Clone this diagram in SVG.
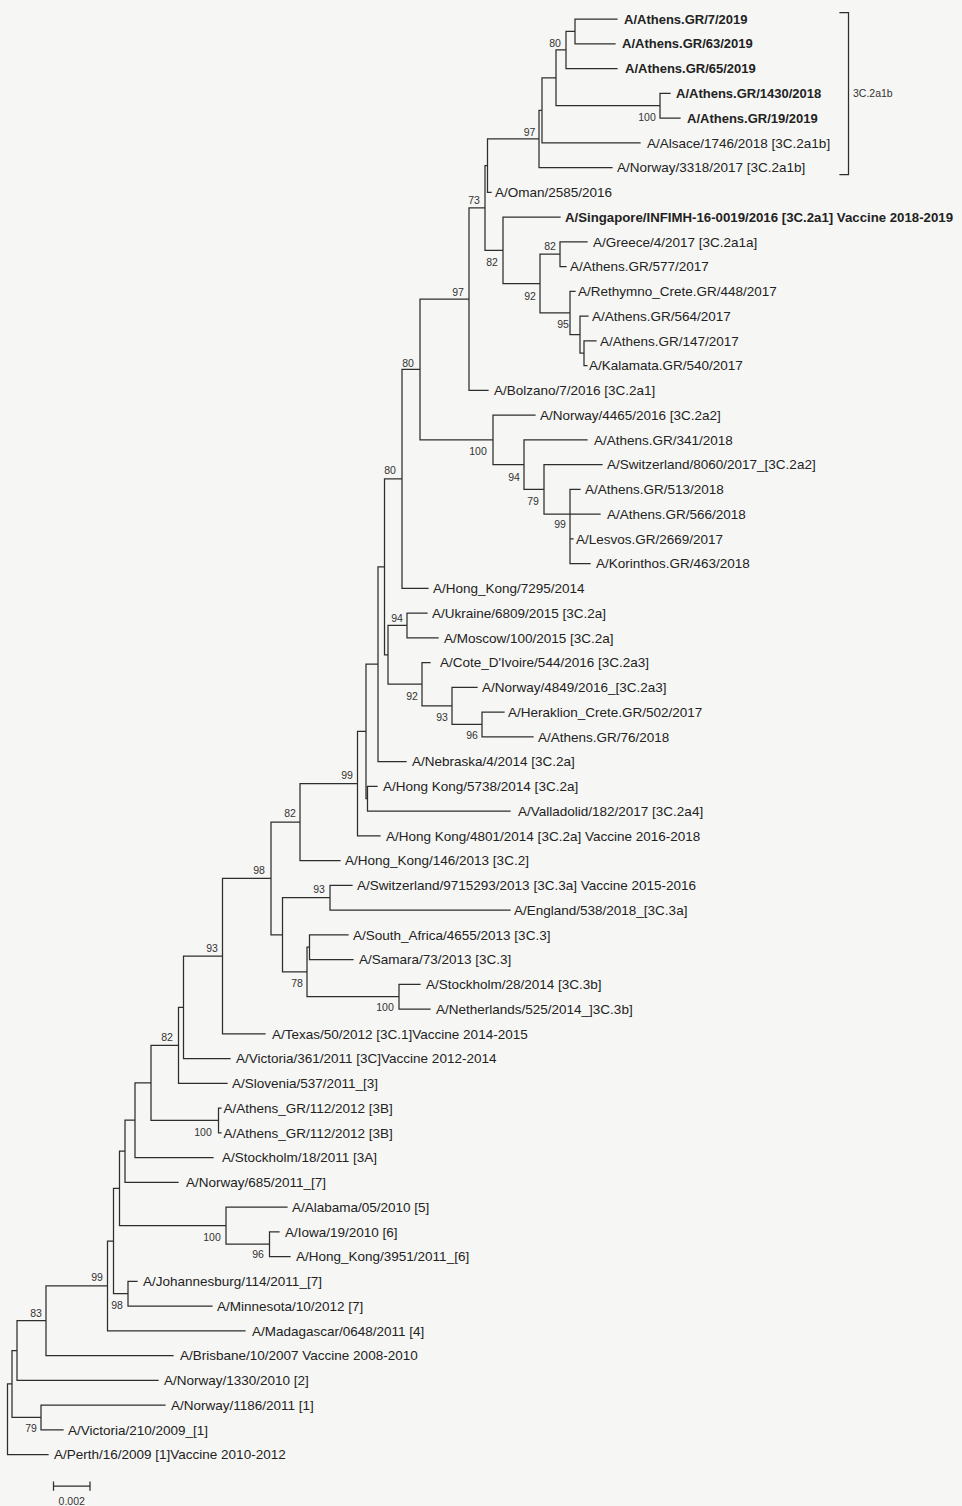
<svg xmlns="http://www.w3.org/2000/svg" width="962" height="1506" viewBox="0 0 962 1506">
<style>
.bg{fill:#f6f6f4}
.br{fill:none;stroke:#2e2e2e;stroke-width:1.25;stroke-linecap:square}
.t{font-family:"Liberation Sans",Arial,sans-serif;font-size:13.5px;fill:#222}
.b{font-weight:bold;font-size:13px}
.n{font-family:"Liberation Sans",Arial,sans-serif;font-size:10.5px;fill:#333;text-anchor:middle}
.c{font-family:"Liberation Sans",Arial,sans-serif;font-size:10.5px;fill:#333}
</style>
<rect class="bg" x="0" y="0" width="962" height="1506"/>
<g id="connectors">
<path class="br" d="
M575,19V43.75 M566,31.375V68.5 M660,93.25V118 M556,49.94V105.625 M542,77.78V142.75 M539,110.27V167.5 M487.5,138.88V192.25
M560,241.75V266.5 M584,340.75V365.5 M580,316V353.125 M570,291.25V334.56 M540,254.125V312.9 M503,217V283.5 M485,165.57V250.25 M469,207.9V390.25
M544,464.5V514 M570,489.25V563.5 M524,439.75V489.25 M493,415V464.5 M420,299.08V439.75 M402,369.4V588.25
M407,613V637.75 M482,712V736.75 M452,687.25V724.375 M422,662.5V705.8 M388,625.375V684.15 M384.5,478.8V654.76 M378,566.8V761.5
M367.5,786.25V811 M366,664.15V798.6 M357.5,731.4V835.75 M300,783.6V860.5 M330,885.25V910 M309.5,934.75V959.5 M399,984.25V1009
M307,947.1V996.6 M282.5,897.6V971.9 M271,822.05V934.75 M222.5,878.4V1033.75 M183.5,956.1V1058.5 M178.5,1007.3V1083.25
M218.5,1108V1132.75 M151,1045.3V1120.4 M135,1082.85V1157.5 M125,1120.2V1182.25 M269.5,1231.75V1256.5 M226,1207V1244.1
M119.5,1151.2V1225.6 M128,1281.25V1306 M113.5,1188.4V1293.6 M107.5,1241V1330.75 M46,1285.9V1355.5 M17,1320.7V1380.25
M41,1405V1429.75 M12,1350.5V1417.4 M7.5,1383.95V1454.5
M566,31.375H575 M556,49.94H566 M556,105.625H660 M542,77.78H556 M539,110.27H542 M487.5,138.88H539 M485,165.57H487.5
M540,254.125H560 M580,353.125H584 M570,334.56H580 M540,312.9H570 M503,283.5H540 M485,250.25H503 M469,207.9H485 M420,299.08H469
M524,489.25H544 M493,464.5H524 M420,439.75H493 M402,369.4H420 M384.5,478.8H402
M388,625.375H407 M452,724.375H482 M422,705.8H452 M388,684.15H422 M384.5,654.76H388 M378,566.8H384.5 M366,664.15H378
M366,798.6H367.5 M357.5,731.4H366 M300,783.6H357.5 M271,822.05H300 M282.5,897.6H330 M307,947.1H309.5 M307,996.6H399
M282.5,971.9H307 M271,934.75H282.5 M222.5,878.4H271 M183.5,956.1H222.5 M178.5,1007.3H183.5 M151,1045.3H178.5
M151,1120.4H218.5 M135,1082.85H151 M125,1120.2H135 M119.5,1151.2H125 M226,1244.1H269.5 M119.5,1225.6H226
M113.5,1188.4H119.5 M113.5,1293.6H128 M107.5,1241H113.5 M46,1285.9H107.5 M17,1320.7H46 M12,1350.5H17 M12,1417.4H41 M7.5,1383.95H12
M575,19H617 M575,43.75H615 M566,68.5H617 M660,93.25H670 M660,118H680 M542,142.75H640 M539,167.5H612 M487.5,192.25H491
M503,217H560 M560,241.75H587 M560,266.5H566 M570,291.25H575 M580,316H588 M584,340.75H596 M584,365.5H587 M469,390.25H488
M493,415H535 M524,439.75H587 M544,464.5H602 M570,489.25H580 M544,514H600 M570,538.75H573 M570,563.5H590 M402,588.25H428
M407,613H427 M407,637.75H438 M422,662.5H430 M452,687.25H477 M482,712H504 M482,736.75H533 M378,761.5H406
M367.5,786.25H377 M367.5,811H510 M357.5,835.75H380 M300,860.5H340 M330,885.25H352 M330,910H510 M309.5,934.75H348 M309.5,959.5H353
M399,984.25H420 M399,1009H430 M222.5,1033.75H265 M183.5,1058.5H230 M178.5,1083.25H227 M218.5,1108H221 M218.5,1132.75H221
M135,1157.5H213 M125,1182.25H178 M226,1207H287 M269.5,1231.75H279 M269.5,1256.5H290 M128,1281.25H137 M128,1306H212
M107.5,1330.75H245 M46,1355.5H173 M17,1380.25H158 M41,1405H165 M41,1429.75H63 M7.5,1454.5H48"/>
</g>
<g id="leaves">
<g id="leaf1"><text class="t b" x="624" y="23.6">A/Athens.GR/7/2019</text></g>
<g id="leaf2"><text class="t b" x="622" y="48.4">A/Athens.GR/63/2019</text></g>
<g id="leaf3"><text class="t b" x="625" y="73.1">A/Athens.GR/65/2019</text></g>
<g id="leaf4"><text class="t b" x="676" y="97.9">A/Athens.GR/1430/2018</text></g>
<g id="leaf5"><text class="t b" x="687" y="122.6">A/Athens.GR/19/2019</text></g>
<g id="leaf6"><text class="t" x="647" y="147.5">A/Alsace/1746/2018 [3C.2a1b]</text></g>
<g id="leaf7"><text class="t" x="617" y="172.2">A/Norway/3318/2017 [3C.2a1b]</text></g>
<g id="leaf8"><text class="t" x="495" y="197">A/Oman/2585/2016</text></g>
<g id="leaf9"><text class="t b" x="565" y="221.6" textLength="388" lengthAdjust="spacingAndGlyphs">A/Singapore/INFIMH-16-0019/2016 [3C.2a1] Vaccine 2018-2019</text></g>
<g id="leaf10"><text class="t" x="593" y="246.5">A/Greece/4/2017 [3C.2a1a]</text></g>
<g id="leaf11"><text class="t" x="570" y="271.2">A/Athens.GR/577/2017</text></g>
<g id="leaf12"><text class="t" x="578" y="296">A/Rethymno_Crete.GR/448/2017</text></g>
<g id="leaf13"><text class="t" x="592" y="320.7">A/Athens.GR/564/2017</text></g>
<g id="leaf14"><text class="t" x="600" y="345.5">A/Athens.GR/147/2017</text></g>
<g id="leaf15"><text class="t" x="589" y="370.2">A/Kalamata.GR/540/2017</text></g>
<g id="leaf16"><text class="t" x="494" y="395">A/Bolzano/7/2016 [3C.2a1]</text></g>
<g id="leaf17"><text class="t" x="540" y="419.7">A/Norway/4465/2016 [3C.2a2]</text></g>
<g id="leaf18"><text class="t" x="594" y="444.5">A/Athens.GR/341/2018</text></g>
<g id="leaf19"><text class="t" x="607" y="469.2">A/Switzerland/8060/2017_[3C.2a2]</text></g>
<g id="leaf20"><text class="t" x="585" y="494">A/Athens.GR/513/2018</text></g>
<g id="leaf21"><text class="t" x="607" y="518.7">A/Athens.GR/566/2018</text></g>
<g id="leaf22"><text class="t" x="576" y="543.5">A/Lesvos.GR/2669/2017</text></g>
<g id="leaf23"><text class="t" x="596" y="568.2">A/Korinthos.GR/463/2018</text></g>
<g id="leaf24"><text class="t" x="433" y="593">A/Hong_Kong/7295/2014</text></g>
<g id="leaf25"><text class="t" x="432" y="617.7">A/Ukraine/6809/2015 [3C.2a]</text></g>
<g id="leaf26"><text class="t" x="444" y="642.5">A/Moscow/100/2015 [3C.2a]</text></g>
<g id="leaf27"><text class="t" x="440" y="667.2">A/Cote_D'Ivoire/544/2016 [3C.2a3]</text></g>
<g id="leaf28"><text class="t" x="482" y="692">A/Norway/4849/2016_[3C.2a3]</text></g>
<g id="leaf29"><text class="t" x="508" y="716.7">A/Heraklion_Crete.GR/502/2017</text></g>
<g id="leaf30"><text class="t" x="538" y="741.5">A/Athens.GR/76/2018</text></g>
<g id="leaf31"><text class="t" x="412" y="766.2">A/Nebraska/4/2014 [3C.2a]</text></g>
<g id="leaf32"><text class="t" x="383" y="791">A/Hong Kong/5738/2014 [3C.2a]</text></g>
<g id="leaf33"><text class="t" x="518" y="815.7">A/Valladolid/182/2017 [3C.2a4]</text></g>
<g id="leaf34"><text class="t" x="386" y="840.5">A/Hong Kong/4801/2014 [3C.2a] Vaccine 2016-2018</text></g>
<g id="leaf35"><text class="t" x="345" y="865.2">A/Hong_Kong/146/2013 [3C.2]</text></g>
<g id="leaf36"><text class="t" x="357" y="890">A/Switzerland/9715293/2013 [3C.3a] Vaccine 2015-2016</text></g>
<g id="leaf37"><text class="t" x="514" y="914.7">A/England/538/2018_[3C.3a]</text></g>
<g id="leaf38"><text class="t" x="353" y="939.5">A/South_Africa/4655/2013 [3C.3]</text></g>
<g id="leaf39"><text class="t" x="359" y="964.2">A/Samara/73/2013 [3C.3]</text></g>
<g id="leaf40"><text class="t" x="426" y="989">A/Stockholm/28/2014 [3C.3b]</text></g>
<g id="leaf41"><text class="t" x="436" y="1013.7">A/Netherlands/525/2014_]3C.3b]</text></g>
<g id="leaf42"><text class="t" x="272" y="1038.5">A/Texas/50/2012 [3C.1]Vaccine 2014-2015</text></g>
<g id="leaf43"><text class="t" x="236" y="1063.2">A/Victoria/361/2011 [3C]Vaccine 2012-2014</text></g>
<g id="leaf44"><text class="t" x="232" y="1088">A/Slovenia/537/2011_[3]</text></g>
<g id="leaf45"><text class="t" x="223.5" y="1112.7">A/Athens_GR/112/2012 [3B]</text></g>
<g id="leaf46"><text class="t" x="223.5" y="1137.5">A/Athens_GR/112/2012 [3B]</text></g>
<g id="leaf47"><text class="t" x="222" y="1162.2">A/Stockholm/18/2011 [3A]</text></g>
<g id="leaf48"><text class="t" x="186" y="1187">A/Norway/685/2011_[7]</text></g>
<g id="leaf49"><text class="t" x="292" y="1211.7">A/Alabama/05/2010 [5]</text></g>
<g id="leaf50"><text class="t" x="285" y="1236.5">A/Iowa/19/2010 [6]</text></g>
<g id="leaf51"><text class="t" x="296" y="1261.2">A/Hong_Kong/3951/2011_[6]</text></g>
<g id="leaf52"><text class="t" x="143" y="1286">A/Johannesburg/114/2011_[7]</text></g>
<g id="leaf53"><text class="t" x="217" y="1310.7">A/Minnesota/10/2012 [7]</text></g>
<g id="leaf54"><text class="t" x="252" y="1335.5">A/Madagascar/0648/2011 [4]</text></g>
<g id="leaf55"><text class="t" x="180" y="1360.2">A/Brisbane/10/2007 Vaccine 2008-2010</text></g>
<g id="leaf56"><text class="t" x="164" y="1385">A/Norway/1330/2010 [2]</text></g>
<g id="leaf57"><text class="t" x="171" y="1409.7">A/Norway/1186/2011 [1]</text></g>
<g id="leaf58"><text class="t" x="68" y="1434.5">A/Victoria/210/2009_[1]</text></g>
<g id="leaf59"><text class="t" x="54" y="1459.2">A/Perth/16/2009 [1]Vaccine 2010-2012</text></g>
</g>
<g id="bootstrap">
<text class="n" x="555" y="46.8">80</text>
<text class="n" x="647" y="120.8">100</text>
<text class="n" x="529.5" y="135.5">97</text>
<text class="n" x="474" y="203.8">73</text>
<text class="n" x="492" y="265.8">82</text>
<text class="n" x="550" y="249.8">82</text>
<text class="n" x="530" y="299.8">92</text>
<text class="n" x="563" y="327.8">95</text>
<text class="n" x="458" y="295.5">97</text>
<text class="n" x="408" y="366.8">80</text>
<text class="n" x="478" y="454.8">100</text>
<text class="n" x="514" y="480.8">94</text>
<text class="n" x="533" y="504.8">79</text>
<text class="n" x="560" y="527.8">99</text>
<text class="n" x="390" y="473.8">80</text>
<text class="n" x="397" y="621.8">94</text>
<text class="n" x="412" y="699.8">92</text>
<text class="n" x="442" y="720.8">93</text>
<text class="n" x="472" y="738.8">96</text>
<text class="n" x="347" y="778.8">99</text>
<text class="n" x="290" y="816.8">82</text>
<text class="n" x="259" y="873.8">98</text>
<text class="n" x="319" y="892.8">93</text>
<text class="n" x="212" y="951.8">93</text>
<text class="n" x="297" y="986.8">78</text>
<text class="n" x="385" y="1010.8">100</text>
<text class="n" x="167" y="1040.8">82</text>
<text class="n" x="203" y="1135.8">100</text>
<text class="n" x="212" y="1240.8">100</text>
<text class="n" x="258" y="1257.8">96</text>
<text class="n" x="97" y="1280.8">99</text>
<text class="n" x="117" y="1308.8">98</text>
<text class="n" x="36" y="1316.8">83</text>
<text class="n" x="31" y="1431.8">79</text>
</g>
<g id="clade-bracket">
<path class="br" d="M840,12.5H848.5V174.5H840"/>
<text class="c" x="853" y="97">3C.2a1b</text>
</g>
<g id="scale-bar">
<path class="br" d="M53.5,1486H90 M53.5,1482V1490 M90,1482V1490"/>
<text class="n" x="71.7" y="1504.5" style="font-size:10.5px">0.002</text>
</g>
</svg>
